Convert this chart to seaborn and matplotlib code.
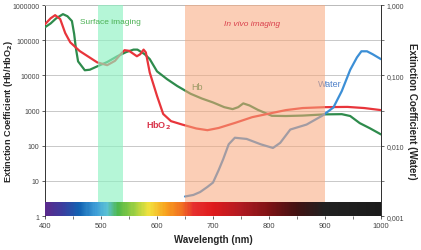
import numpy as np
import pandas as pd
import seaborn as sns
import matplotlib.pyplot as plt
from matplotlib.colors import LinearSegmentedColormap
from matplotlib.ticker import FixedLocator, NullFormatter

# Hb (deoxy)
hb_nm = [400, 410, 420, 432, 440, 448, 452, 455, 459, 471, 480, 493, 511, 529, 545, 558,
         565, 578, 587, 600, 618, 636, 660, 680, 700, 720, 735, 745, 754, 765, 780, 805,
         830, 860, 900, 930, 945, 962, 980, 1000]
hb_val = [234000, 300000, 420000, 550000, 480000, 350000, 150000, 60000, 25000, 14000, 14500,
          18000, 24000, 35000, 46000, 54000, 54000, 40000, 29000, 13000, 7800, 5000, 3000,
          2200, 1700, 1250, 1100, 1250, 1600, 1400, 1050, 710, 700, 720, 780, 790, 700,
          440, 315, 210]

# HbO2
hbo2_nm = [400, 410, 418, 427, 436, 445, 462, 480, 493, 511, 525, 535, 542, 550, 564,
           570, 576, 580, 587, 600, 611, 625, 645, 670, 690, 710, 740, 770, 800, 830,
           860, 900, 940, 970, 1000]
hbo2_val = [285000, 420000, 515000, 400000, 160000, 87000, 49000, 32000, 23500, 19500,
            26000, 40000, 52000, 50000, 35000, 40000, 54000, 45000, 12000, 2600, 800, 500,
            400, 310, 277, 320, 450, 650, 820, 1030, 1180, 1250, 1270, 1180, 1030]

# water (right axis)
water_nm = [650, 665, 677, 690, 700, 710, 718, 728, 739, 760, 785, 807, 820, 838, 867,
            896, 915, 930, 945, 957, 965, 975, 985, 1000]
water_val = [0.0019, 0.002, 0.0022, 0.0026, 0.003, 0.0045, 0.0064, 0.0105, 0.013, 0.0125,
             0.0105, 0.0093, 0.011, 0.017, 0.02, 0.027, 0.035, 0.06, 0.12, 0.18, 0.22, 0.22,
             0.2, 0.17]

surface_band = [495, 540]
invivo_band = [650, 900]

spectrum_nm = [400, 430, 460, 490, 510, 530, 560, 585, 615, 645, 665, 700, 750, 800, 850, 900, 1000]
spectrum_col = ["#5b2a8c", "#3c3c9e", "#1262b2", "#3f9fd8", "#5cc2d4", "#4fb84a", "#a2d142",
                "#f2e23e", "#f8a21e", "#f06d22", "#e6302e", "#df1a1c", "#b01a22", "#7e1214",
                "#421212", "#212121", "#1b1b1b"]

sns.set_theme(style="white")
plt.rcParams["font.family"] = ["Liberation Sans", "DejaVu Sans"]

fig = plt.figure(figsize=(4.21, 2.51), dpi=100)
ax = fig.add_axes([0.107, 0.135, 0.798, 0.841])

df_hb = pd.DataFrame({"nm": hb_nm, "val": hb_val})
df_hbo2 = pd.DataFrame({"nm": hbo2_nm, "val": hbo2_val})
df_w = pd.DataFrame({"nm": water_nm, "val": water_val})

sns.lineplot(data=df_hb, x="nm", y="val", ax=ax, color="#2e8b4c", lw=1.6, zorder=3)
sns.lineplot(data=df_hbo2, x="nm", y="val", ax=ax, color="#e8353b", lw=1.6, zorder=4)
ax.set_yscale("log")
ax.set_xlim(400, 1000)
ax.set_ylim(1, 1e6)

# spectrum bar at the bottom
cmap = LinearSegmentedColormap.from_list(
    "spec", [((n - 400) / 600, c) for n, c in zip(spectrum_nm, spectrum_col)])
xs = np.linspace(400, 1000, 301)
ax.pcolormesh(xs, [1, 2.5], (xs[:-1] + 1)[None, :], cmap=cmap, vmin=400, vmax=1000,
              shading="flat", zorder=5)

ax.yaxis.set_major_locator(FixedLocator([1, 10, 100, 1000, 10000, 100000, 1000000]))
ax.set_yticklabels(["1", "10", "100", "1000", "10000", "100000", "1000000"])
ax.yaxis.set_minor_formatter(NullFormatter())
ax.yaxis.set_minor_locator(FixedLocator([]))
ax.xaxis.set_major_locator(FixedLocator(range(400, 1001, 100)))
ax.xaxis.set_minor_locator(FixedLocator(range(450, 1000, 100)))
ax.grid(axis="y", color="#c8c8c8", lw=0.7, zorder=0)
ax.tick_params(axis="both", which="major", labelsize=5, colors="#444444", length=2.5,
               width=0.6, direction="out", pad=1.5)
ax.tick_params(axis="x", which="major", labelsize=5.5)
ax.tick_params(axis="x", which="minor", length=2, width=0.5, color="#444444", bottom=True)
ax.tick_params(axis="x", bottom=True)
ax.tick_params(axis="y", left=True)
for s in ["left", "right"]:
    ax.spines[s].set_color("#333333")
    ax.spines[s].set_linewidth(0.7)
ax.spines["top"].set_color("#bbbbbb")
ax.spines["top"].set_linewidth(0.7)
ax.spines["bottom"].set_visible(False)

ax.set_xlabel("Wavelength (nm)", fontsize=7, fontweight="bold", labelpad=4)
ax.set_ylabel("Extinction Coefficient (Hb/HbO$_\\mathbf{2}$)", fontsize=6.6, fontweight="bold",
              va="center")
ax.yaxis.set_label_coords(-0.11, 0.5)

ax.text(671, 4900, "Hb", color="#2e8b4c", fontsize=6.5, ha="center", va="center", zorder=3)
ax.text(602, 385, "HbO$_\\mathbf{2}$", color="#d9344a", fontsize=6.5, fontweight="bold",
        ha="center", va="center", zorder=6)

# water on the right axis, bands drawn over everything
ax2 = ax.twinx()
sns.lineplot(data=df_w, x="nm", y="val", ax=ax2, color="#3c8fd6", lw=1.6, zorder=2)
ax2.set_yscale("log")
ax2.set_ylim(0.001, 1)
ax2.set_xlim(400, 1000)
ax2.set_ylabel("Extinction Coefficient (Water)", fontsize=7, fontweight="bold",
               rotation=270, labelpad=9)
ax2.set_xlabel("")
ax2.yaxis.set_major_locator(FixedLocator([0.001, 0.01, 0.1, 1]))
ax2.set_yticklabels(["0,001", "0,010", "0,100", "1,000"])
ax2.yaxis.set_minor_locator(FixedLocator([10 ** -2.5, 10 ** -1.5, 10 ** -0.5]))
ax2.yaxis.set_minor_formatter(NullFormatter())
ax2.tick_params(axis="y", which="major", labelsize=5, colors="#444444", length=2.5,
                width=0.6, pad=1.5, right=True)
ax2.tick_params(axis="y", which="minor", length=2, width=0.5, color="#444444", right=True)
for s in ["top", "bottom", "left"]:
    ax2.spines[s].set_visible(False)
ax2.spines["right"].set_color("#333333")
ax2.spines["right"].set_linewidth(0.7)

ax2.text(909, 0.076, "Water", color="#4f80c8", fontsize=6.5, ha="center", va="center",
         zorder=2)

ymin_frac = np.log10(2.5) / 6
ax2.axvspan(surface_band[0], surface_band[1], ymin=ymin_frac, ymax=1, color="#8ef2c2",
            alpha=0.65, lw=0, zorder=3)
ax2.axvspan(invivo_band[0], invivo_band[1], ymin=ymin_frac, ymax=1, color="#f8a77a",
            alpha=0.55, lw=0, zorder=3)

ax2.text(517, 0.58, "Surface imaging", color="#4cb054", fontsize=6, ha="center",
         va="center", zorder=6)
ax2.text(770, 0.55, "In vivo imaging", color="#d9404c", fontsize=6, style="italic",
         ha="center", va="center", zorder=4)

fig.savefig("out.png", dpi=100)
